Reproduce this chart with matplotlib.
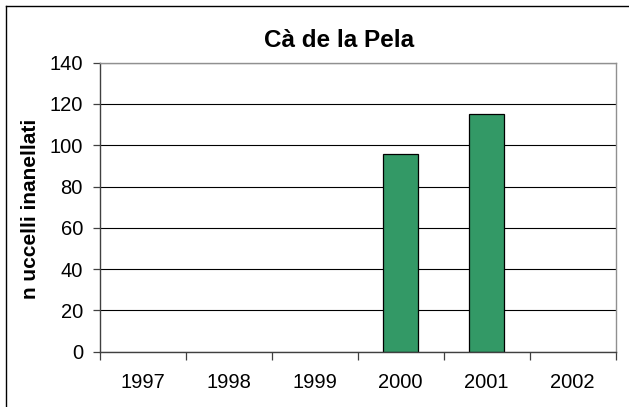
import matplotlib
matplotlib.use("Agg")
import matplotlib.pyplot as plt
from matplotlib.lines import Line2D
import numpy as np

plt.rcParams['font.family'] = ['Liberation Sans', 'DejaVu Sans']

years = ['1997', '1998', '1999', '2000', '2001', '2002']
birds = [0, 0, 0, 96, 115, 0]

W, H = 629, 407
fig = plt.figure(figsize=(W / 100, H / 100), dpi=100)
ax = fig.add_axes([99.6 / W, 1 - 351.7 / H, (615.6 - 99.6) / W, (351.7 - 62.7) / H])

x = np.arange(len(years))
# empty years get no outline, as in the original
edge_w = [0.9 if v > 0 else 0 for v in birds]
ax.bar(x, birds, width=0.4, color='#339966', edgecolor='black', linewidth=edge_w, zorder=2)

ax.set_xlim(-0.5, len(years) - 0.5)
ax.set_ylim(0, 140)
ax.set_yticks(np.arange(0, 141, 20))
ax.yaxis.grid(True, color='black', linewidth=0.8)
ax.set_axisbelow(True)

ax.set_xticks(x)
ax.set_xticklabels(years)
ax.set_xticks(np.arange(-0.5, len(years)), minor=True)
ax.tick_params(axis='x', which='major', length=0, pad=15, labelsize=14.5)
ax.tick_params(axis='x', which='minor', length=6, width=0.9, direction='out', color='#404040')
ax.tick_params(axis='y', length=5, width=0.9, direction='out', pad=7, labelsize=14.5, color='#404040')

for side in ['top', 'right']:
    ax.spines[side].set_color('#909090')
    ax.spines[side].set_linewidth(1.0)
for side in ['left', 'bottom']:
    ax.spines[side].set_color('#404040')
    ax.spines[side].set_linewidth(1.0)

fig.text(339 / W, 1 - 46.7 / H, 'Cà de la Pela', ha='center', va='baseline',
         fontsize=17.5, fontweight='bold')
fig.text(31 / W, 1 - 209 / H, 'n uccelli inanellati', ha='center', va='center',
         rotation=90, fontsize=15, fontweight='bold')

# outer chart frame (only left and top edges fall inside the picture)
fig.add_artist(Line2D([6 / W, 6 / W], [0, 1 - 6 / H], transform=fig.transFigure,
                      color='black', linewidth=1.0))
fig.add_artist(Line2D([6 / W, 1], [1 - 6 / H, 1 - 6 / H], transform=fig.transFigure,
                      color='black', linewidth=1.0))

fig.savefig('out.png', dpi=100)
